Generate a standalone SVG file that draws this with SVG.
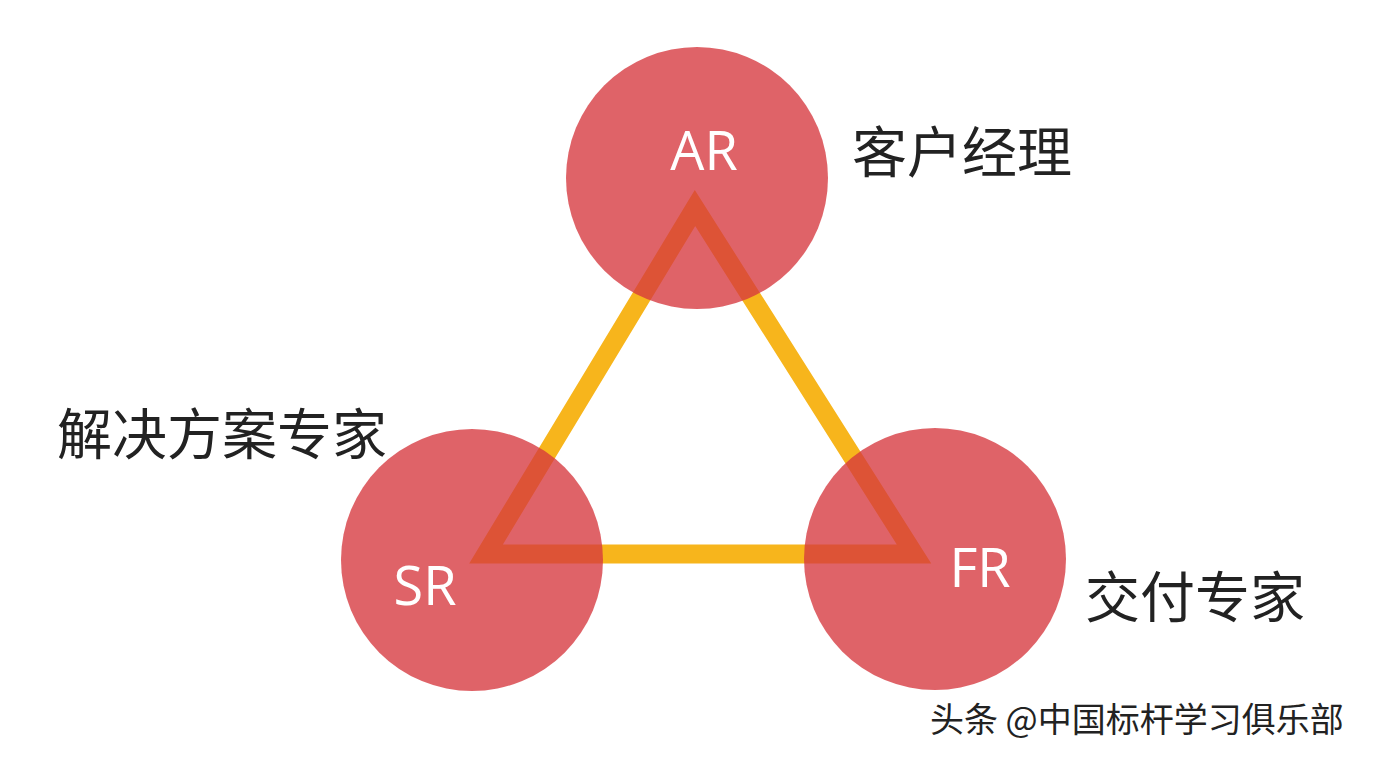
<svg xmlns="http://www.w3.org/2000/svg" width="1378" height="760" viewBox="0 0 1378 760">
<style>
.c{fill:#d6373e;fill-opacity:0.78}
.w{fill:#fff;font-family:"Open Sans","Liberation Sans",sans-serif;font-size:54px;text-anchor:middle}
.l{fill:#222;font-family:"Noto Sans CJK SC",sans-serif;font-size:55px}
</style>
<rect width="1378" height="760" fill="#fff"/>
<g id="connectors"><polygon points="695,208 486,554 914,554" fill="none" stroke="#f7b51c" stroke-width="19" stroke-linejoin="miter"/></g>
<g id="AR"><circle class="c" cx="697" cy="178" r="131"/><text class="w" x="704" y="170">AR</text></g>
<g id="SR"><circle class="c" cx="472" cy="560" r="131"/><text class="w" x="425" y="605">SR</text></g>
<g id="FR"><circle class="c" cx="935" cy="559" r="131"/><text class="w" x="980" y="587">FR</text></g>
<text class="l" x="852" y="172">客户经理</text>
<text class="l" x="57" y="454">解决方案专家</text>
<text class="l" x="1085" y="617">交付专家</text>
<text x="930" y="732" style="fill:#222;font-family:'Noto Sans CJK SC',sans-serif;font-size:34px">头条 @中国标杆学习俱乐部</text>
</svg>
